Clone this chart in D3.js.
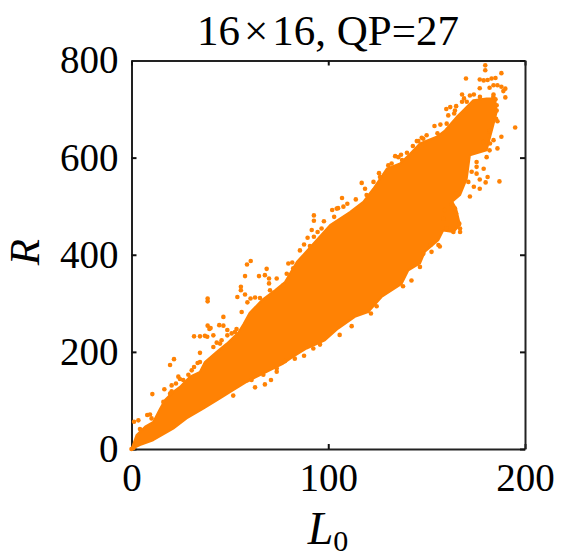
<!DOCTYPE html>
<html>
<head>
<meta charset="utf-8">
<script src="https://cdn.jsdelivr.net/npm/d3@7"></script>
<style>
  html, body { margin: 0; padding: 0; background: #fff; }
  text { font-family: "Liberation Serif", serif; fill: #000; }
</style>
</head>
<body>
<script>
var WIDTH = 580;
var HEIGHT = 560;

var xTicks = [0, 100, 200];
var yTicks = [0, 200, 400, 600, 800];

// edges of the solid part of the cloud, [L0, R]
var coreUpper = [[0, 0], [2.6, 29], [6.9, 46], [11.1, 56], [14.5, 83], [17, 101], [21.2, 118], [24.6, 128],
  [29.7, 149], [34.8, 159], [37.3, 179], [43.3, 200], [48.4, 217], [54.3, 240], [57, 258], [60, 280],
  [66.1, 306], [72.9, 327], [78, 344], [84, 385], [100.9, 461], [111, 488], [117.8, 509], [122.9, 536],
  [129.7, 577], [136.5, 588], [141.6, 608], [146.6, 629], [155.1, 643], [159.3, 656], [165.3, 684],
  [167.8, 694], [173.7, 718], [180.5, 722]];
var coreLower = [[0, 0], [4.3, 8], [11, 18], [21.2, 42], [28, 63], [36.5, 83], [45, 104], [51.7, 121], [58.5, 138],
  [68.7, 159], [77.2, 176], [82.2, 190], [89, 207], [98.3, 224], [105, 248], [113.5, 272], [120.3, 282],
  [127.1, 313], [137.3, 340], [140.7, 368], [146.6, 382], [149.1, 406], [155.9, 430], [158.4, 450], [163.5, 447],
  [167, 461], [165, 495], [163, 509], [167, 523], [170.4, 557], [172, 605], [180.5, 615], [183.9, 667],
  [185.6, 694], [184.8, 722]];

// scattered points around the solid part, [L0, R]
var pointsTop = [[179.8, 790], [179.8, 780], [188, 774], [170, 763], [177, 761], [179, 759], [181, 760], [183, 763],
  [185, 764], [177, 743], [184, 749], [182, 744], [186, 749], [188, 746], [190, 742], [189, 737], [190, 724],
  [168, 730], [172, 728], [174, 730], [169, 722], [184, 730], [185, 720], [185.6, 708], [162, 704], [160, 700],
  [165, 706], [168, 715], [164, 691], [161, 687], [186, 675], [195, 662], [188, 643], [182, 654], [184, 636],
  [186, 619], [182, 615], [180.5, 601], [179, 577], [175.4, 581], [181, 560], [187, 551], [177, 555], [180, 549],
  [175.4, 567], [177, 536], [174, 540], [172, 520]];
var pointsUpperEdge = [[154, 665], [157, 668], [155.5, 650], [150, 646], [147.5, 641], [145, 634], [143, 624],
  [140, 610], [137, 606], [134, 603], [137.5, 595], [130.5, 584], [125.8, 568], [123, 550], [117, 548], [118.7, 536],
  [107, 517], [114, 514], [109.7, 505], [105, 496], [102, 492], [103, 478], [92.7, 481], [92.7, 470], [97.8, 469],
  [91.6, 451], [89.5, 435], [94.6, 447], [87.7, 421], [90.7, 418], [92.7, 437], [85.6, 409], [96.6, 454],
  [104.3, 495], [107.7, 499], [119.5, 523], [126.3, 560], [132.2, 588], [135.6, 601], [145.8, 634], [148.3, 639],
  [160.2, 670], [164.4, 697], [170.4, 715], [177.1, 725], [183.9, 725], [185.6, 697], [185.3, 680], [182.2, 656],
  [178.8, 632], [182.2, 629], [175.4, 591], [172.9, 571], [171.2, 550]];
var pointsMid = [[60.6, 387], [58.7, 380], [68.7, 371], [57.7, 356], [64.8, 356], [67.8, 358], [69.9, 351], [73.8, 351],
  [69.9, 341], [79.7, 382], [81.7, 384], [55.6, 334], [55.6, 327], [57.7, 318], [53.8, 313], [38.7, 310], [38.7, 304],
  [60.5, 310], [62.8, 312], [58.9, 302], [56, 282], [46.7, 272], [44.6, 255], [46.7, 254], [38.7, 254], [39.6, 247],
  [40.2, 249], [38.5, 231], [31.8, 232], [34.8, 232], [37.3, 233], [41.6, 234], [48.7, 245], [48.7, 234], [53.4, 247],
  [43.3, 219], [45.8, 224], [34.8, 198], [21.6, 185], [19.6, 173], [33.6, 177], [31.8, 169], [23.8, 149], [24.6, 144],
  [28.9, 153], [22.6, 135], [20.4, 131], [16.7, 123], [10.6, 113], [20.4, 119], [3.5, 59], [1.3, 56], [8, 70], [10.2, 63],
  [70.4, 327], [65.3, 311], [78.9, 361], [82.2, 372], [77.2, 337], [52.6, 241], [50.9, 238], [45, 217], [41.6, 210],
  [34.8, 179], [30.6, 162], [26.3, 142], [19.6, 114], [16.2, 97], [9.4, 71], [4.3, 41]];
var pointsLowerEdge = [[164.4, 495], [165, 485], [166.6, 464], [167, 454], [167, 447], [163.6, 447], [160, 454],
  [158.5, 474], [156, 420], [152, 420], [159, 492], [162.7, 505], [165, 526], [51.7, 110], [67.8, 133], [70.9, 142],
  [62.8, 127], [73.8, 159], [87.7, 192], [92.4, 207], [95.8, 215], [78, 181], [105.8, 235], [111.9, 253], [121.7, 279],
  [124.6, 294], [138, 335], [142.3, 347], [146.6, 375], [152.5, 406], [156.7, 417], [148.3, 402], [0, 0], [1, 2],
  [67, 153], [61, 142], [73.8, 166], [83, 186]];

var allPoints = pointsTop.concat(pointsUpperEdge, pointsMid, pointsLowerEdge);

var svg = d3.select("body")
  .append("svg")
  .attr("width", WIDTH)
  .attr("height", HEIGHT)
  .style("display", "block");

var x = d3.scaleLinear().domain([0, 200]).range([131.5, 525]);
var y = d3.scaleLinear().domain([0, 800]).range([449, 60.5]);

var ORANGE = "#ff8204";

function styleAxis(g) {
  g.selectAll("path").attr("stroke", "#222").attr("stroke-width", 2);
  g.selectAll("line").attr("stroke", "#111").attr("stroke-width", 2);
  g.selectAll("text").attr("font-size", 39).attr("font-family", "Liberation Serif");
}

// all four sides, ticks point inward, only left and bottom carry labels
var bottom = svg.append("g").attr("transform", "translate(0," + y(0) + ")")
  .call(d3.axisBottom(x).tickValues(xTicks).tickSize(-5).tickPadding(14).tickSizeOuter(0));
styleAxis(bottom);
var left = svg.append("g").attr("transform", "translate(" + x(0) + ",0)")
  .call(d3.axisLeft(y).tickValues(yTicks).tickSize(-5).tickPadding(13).tickSizeOuter(0));
styleAxis(left);
var top_ = svg.append("g").attr("transform", "translate(0," + y(800) + ")")
  .call(d3.axisTop(x).tickValues(xTicks).tickSize(-5).tickFormat("").tickSizeOuter(0));
styleAxis(top_);
var right = svg.append("g").attr("transform", "translate(" + x(200) + ",0)")
  .call(d3.axisRight(y).tickValues(yTicks).tickSize(-5).tickFormat("").tickSizeOuter(0));
styleAxis(right);

var edge = d3.line().x(function (d) { return x(d[0]); }).y(function (d) { return y(d[1]); });

svg.append("path")
  .attr("d", edge(coreUpper.concat(coreLower.slice().reverse())) + "Z")
  .attr("fill", ORANGE)
  .attr("stroke", ORANGE)
  .attr("stroke-width", 2)
  .attr("stroke-linejoin", "round");

svg.append("g").selectAll("circle")
  .data(allPoints)
  .enter()
  .append("circle")
  .attr("cx", function (d) { return x(d[0]); })
  .attr("cy", function (d) { return y(d[1]); })
  .attr("r", 2.3)
  .attr("fill", ORANGE);

var title = svg.append("text")
  .attr("x", 328)
  .attr("y", 45)
  .attr("text-anchor", "middle")
  .attr("font-size", 43);
title.append("tspan").text("16");
title.append("tspan").attr("dx", 4).text("×");
title.append("tspan").attr("dx", 4).text("16, QP=27");

var xLabel = svg.append("text")
  .attr("x", 328)
  .attr("y", 544)
  .attr("text-anchor", "middle")
  .attr("font-size", 46);
xLabel.append("tspan").attr("font-style", "italic").text("L");
xLabel.append("tspan").attr("font-size", 30).attr("dy", 7).text("0");

svg.append("text")
  .attr("transform", "translate(38.5,252) rotate(-90)")
  .attr("text-anchor", "middle")
  .attr("font-size", 43)
  .attr("font-style", "italic")
  .text("R");
</script>
</body>
</html>
